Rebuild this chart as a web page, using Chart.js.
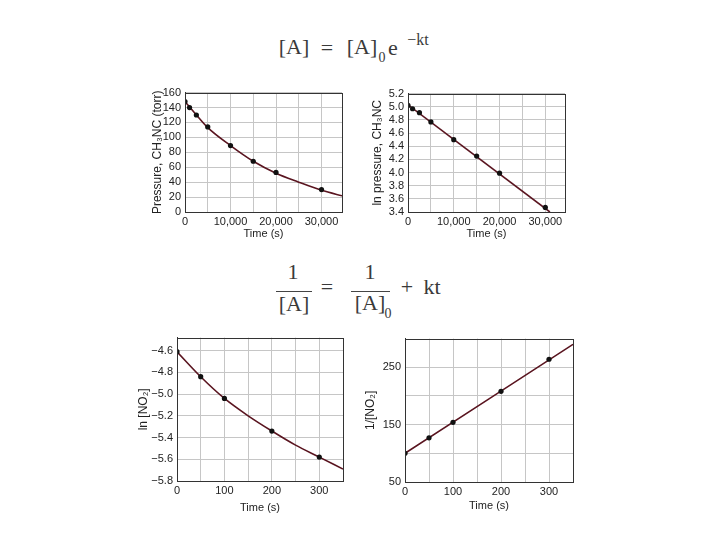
<!DOCTYPE html>
<html><head><meta charset="utf-8">
<script src="https://cdn.jsdelivr.net/npm/chart.js@4.4.0/dist/chart.umd.min.js"></script>
<style>
body{margin:0;background:#fff;width:720px;height:540px;position:relative;overflow:hidden;}
canvas{position:absolute;}
.t{position:absolute;font-family:'Liberation Serif','DejaVu Serif',serif;color:#3a3a3a;font-size:22px;white-space:nowrap;transform:translate(-50%,-50%);line-height:1;}
.s{font-size:14px;}
.ln{position:absolute;height:1.3px;background:#444;}
</style></head><body>
<div class="t" style="left:294px;top:47px">[A]</div>
<div class="t" style="left:327px;top:48px">=</div>
<div class="t" style="left:362px;top:47px">[A]</div>
<div class="t s" style="left:382px;top:58px">0</div>
<div class="t" style="left:393px;top:48px">e</div>
<div class="t" style="left:418px;top:40px;font-size:16px">−kt</div>
<div class="t" style="left:293px;top:272px">1</div>
<div class="ln" style="left:276px;top:291px;width:36px"></div>
<div class="t" style="left:294px;top:304px">[A]</div>
<div class="t" style="left:327px;top:287px">=</div>
<div class="t" style="left:370px;top:272px">1</div>
<div class="ln" style="left:351px;top:291px;width:39px"></div>
<div class="t" style="left:370px;top:303px">[A]</div>
<div class="t s" style="left:388px;top:314px">0</div>
<div class="t" style="left:407px;top:287px">+</div>
<div class="t" style="left:432px;top:287px">kt</div>
<canvas id="c1"></canvas>
<canvas id="c2"></canvas>
<canvas id="c3"></canvas>
<canvas id="c4"></canvas>
<script>
// ---- data ----
const tFirst = [0, 1000, 2500, 5000, 10000, 15000, 20000, 30000];
const pressure = [148, 140, 130, 114, 89, 68, 53, 30];
const pressureCurveT = [0, 2500, 5000, 10000, 15000, 20000, 25000, 30000, 35000];
const pressureCurve = [148, 130, 113, 89, 68, 52, 40, 29, 21];
const lnPressure = [5.02, 4.97, 4.91, 4.77, 4.50, 4.25, 3.99, 3.47];
const lnPressureLineT = [0, 31000];
const lnPressureLine = [5.03, 3.40];
const tSecond = [0, 50, 100, 200, 300];
const lnNO2 = [-4.61, -4.84, -5.04, -5.34, -5.58];
const lnNO2CurveT = [0, 50, 100, 150, 200, 250, 300, 350];
const lnNO2Curve = [-4.61, -4.84, -5.04, -5.20, -5.34, -5.47, -5.58, -5.69];
const invNO2 = [100, 127, 154, 208, 264];
const invNO2LineT = [0, 350];
const invNO2Line = [100, 290];

// ---- ticks & titles ----
const xTicksLong = [0, 5000, 10000, 15000, 20000, 25000, 30000];
const xTicksShort = [0, 50, 100, 150, 200, 250, 300];
const yTicksPressure = [0, 20, 40, 60, 80, 100, 120, 140, 160];
const yTicksLnPressure = [3.4, 3.6, 3.8, 4.0, 4.2, 4.4, 4.6, 4.8, 5.0, 5.2];
const yTicksLnNO2 = [-5.8, -5.6, -5.4, -5.2, -5.0, -4.8, -4.6];
const yTicksInvNO2 = [50, 100, 150, 200, 250];
const xTitle = 'Time (s)';
const yTitles = ['Pressure, CH₃NC (torr)', 'ln pressure, CH₃NC', 'ln [NO₂]', '1/[NO₂]'];

Chart.defaults.font.family = "'Liberation Sans',Arial,sans-serif";
Chart.defaults.color = '#222';

const pts = (xs, ys) => xs.map((x, i) => ({x, y: ys[i]}));
const comma = v => String(v).replace(/\B(?=(\d{3})+(?!\d))/g, ',');
const setTicks = arr => s => { s.ticks = arr.map(v => ({value: v})); };

const frame = {
  id: 'frame',
  afterDatasetsDraw(chart) {
    const a = chart.chartArea, c = chart.ctx;
    c.save(); c.strokeStyle = '#333'; c.lineWidth = 1;
    c.strokeRect(Math.round(a.left) + 0.5, Math.round(a.top) + 0.5, Math.round(a.right - a.left), Math.round(a.bottom - a.top));
    c.restore();
  }
};

function make(id, o) {
  const cv = document.getElementById(id);
  const w = o.yW + (o.r - o.l) + o.padR;
  const h = o.padT + (o.b - o.t) + o.xH;
  cv.width = w; cv.height = h;
  cv.style.left = (o.l - o.yW) + 'px';
  cv.style.top = (o.t - o.padT) + 'px';
  cv.style.width = w + 'px'; cv.style.height = h + 'px';
  new Chart(cv, {
    type: 'scatter',
    data: { datasets: [
      { data: o.points, showLine: false, pointRadius: 2.6, pointBackgroundColor: '#111', pointBorderWidth: 0 },
      { data: o.curve, showLine: true, pointRadius: 0, borderColor: '#5a1520', borderWidth: 1.6, cubicInterpolationMode: 'monotone', fill: false }
    ]},
    options: {
      responsive: false, animation: false, devicePixelRatio: 1,
      layout: { padding: { top: o.padT, right: o.padR, bottom: 0, left: 0 } },
      plugins: { legend: { display: false }, tooltip: { enabled: false } },
      scales: {
        x: {
          type: 'linear', min: o.xmin, max: o.xmax,
          afterBuildTicks: setTicks(o.xticks),
          afterFit: s => { s.height = o.xH; },
          grid: { color: '#c6c6c6', drawTicks: false },
          border: { color: '#333' },
          ticks: { autoSkip: false, maxRotation: 0, padding: 3, font: { size: 11 }, callback: o.xcb },
          title: { display: true, text: xTitle, font: { size: 11 }, padding: { top: 0, bottom: o.xtpb } }
        },
        y: {
          type: 'linear', min: o.ymin, max: o.ymax,
          afterBuildTicks: setTicks(o.yticks),
          afterFit: s => { s.width = o.yW; },
          grid: { color: '#c6c6c6', drawTicks: false },
          border: { color: '#333' },
          ticks: { autoSkip: false, padding: 4, font: { size: 11 }, callback: o.ycb },
          title: { display: true, text: o.ytitle, font: { size: 12 }, padding: { top: o.ytpt, bottom: 0 } }
        }
      }
    },
    plugins: [frame]
  });
}

const xLongLabel = v => (v % 10000 === 0 ? comma(v) : '');
const xShortLabel = v => (v % 100 === 0 ? String(v) : '');

make('c1', { l: 185, r: 342, t: 92, b: 212, yW: 40, xH: 30, padT: 10, padR: 14, xtpb: 1, ytpt: 5,
  points: pts(tFirst, pressure), curve: pts(pressureCurveT, pressureCurve),
  xmin: 0, xmax: 34500, xticks: xTicksLong, xcb: xLongLabel,
  ymin: 0, ymax: 160, yticks: yTicksPressure, ycb: v => String(v), ytitle: yTitles[0] });

make('c2', { l: 408, r: 565, t: 93, b: 212, yW: 44, xH: 30, padT: 10, padR: 14, xtpb: 1, ytpt: 6,
  points: pts(tFirst, lnPressure), curve: pts(lnPressureLineT, lnPressureLine),
  xmin: 0, xmax: 34300, xticks: xTicksLong, xcb: xLongLabel,
  ymin: 3.4, ymax: 5.2, yticks: yTicksLnPressure, ycb: v => v.toFixed(1), ytitle: yTitles[1] });

make('c3', { l: 177, r: 343, t: 337, b: 481, yW: 47, xH: 35, padT: 10, padR: 10, xtpb: 1, ytpt: 6,
  points: pts(tSecond, lnNO2), curve: pts(lnNO2CurveT, lnNO2Curve),
  xmin: 0, xmax: 350, xticks: xTicksShort, xcb: xShortLabel,
  ymin: -5.8, ymax: -4.48, yticks: yTicksLnNO2, ycb: v => '−' + Math.abs(v).toFixed(1), ytitle: yTitles[2] });

make('c4', { l: 405, r: 573, t: 338, b: 482, yW: 48, xH: 32, padT: 10, padR: 10, xtpb: 1, ytpt: 6,
  points: pts(tSecond, invNO2), curve: pts(invNO2LineT, invNO2Line),
  xmin: 0, xmax: 350, xticks: xTicksShort, xcb: xShortLabel,
  ymin: 50, ymax: 300, yticks: yTicksInvNO2, ycb: v => ((v - 50) % 100 === 0 ? String(v) : ''), ytitle: yTitles[3] });
</script>
</body></html>
